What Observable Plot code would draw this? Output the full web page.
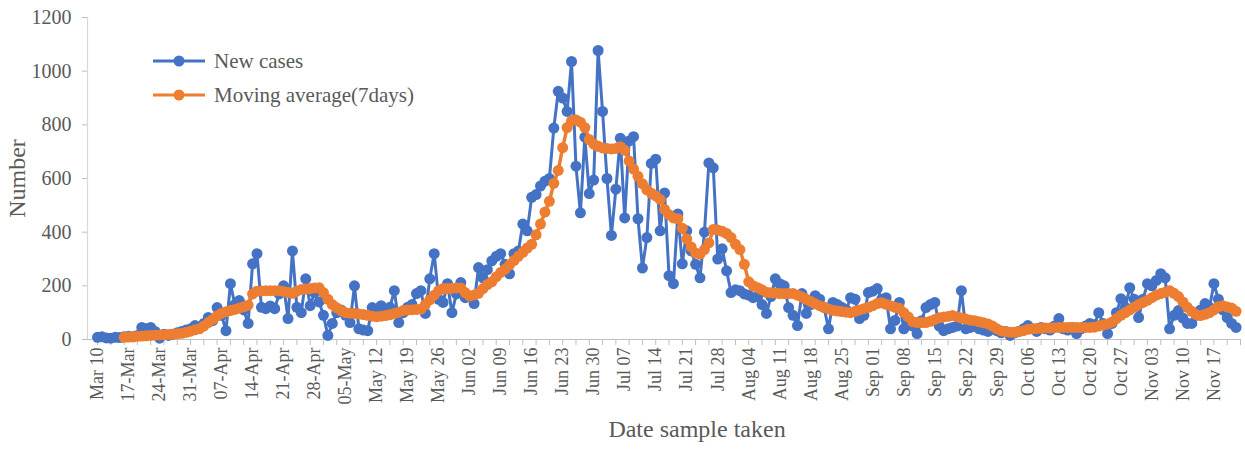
<!DOCTYPE html>
<html>
<head>
<meta charset="utf-8">
<script src="https://cdn.jsdelivr.net/npm/d3@7"></script>
<script src="https://cdn.jsdelivr.net/npm/@observablehq/plot@0.6"></script>
<style>
  body { margin: 0; background: #fff; }
  #chart { position: relative; width: 1245px; height: 451px; }
  .legend { position: absolute; left: 152px; top: 44px; font-family: "Liberation Serif", "Times New Roman", serif; font-size: 21px; color: #595959; }
  .legend .row { display: flex; align-items: center; height: 34px; }
  .legend svg { margin-right: 8px; }
</style>
</head>
<body>
<div id="chart"></div>
<script>
// Daily new cases, day 0 = Mar 10
const newCases = [
  8, 10, 6, 5, 8, 7, 10,
  12, 10, 15, 45, 40, 45, 30,
  5, 20, 15, 20, 25, 30, 35,
  40, 52, 45, 60, 82, 70, 119,
  90, 33, 208, 130, 145, 110, 60,
  282, 320, 120, 115, 125, 115, 170,
  200, 78, 330, 120, 100, 226, 126,
  175, 140, 90, 15, 60, 100, 110,
  90, 63, 200, 40, 35, 33, 119,
  105, 126, 110, 120, 182, 63, 100,
  120, 130, 171, 182, 97, 226, 320,
  150, 138, 208, 100, 170, 212, 156,
  160, 134, 268, 230, 260, 293, 310,
  320, 280, 245, 320, 330, 430, 405,
  530, 540, 572, 590, 600, 788, 925,
  900, 850, 1036, 646, 472, 754, 544,
  594, 1077, 850, 600, 388, 560, 750,
  453, 740, 756, 450, 266, 380, 656,
  672, 405, 546, 238, 208, 468, 282,
  405, 330, 280, 230, 400, 658, 640,
  300, 338, 256, 175, 185, 182, 170,
  165, 156, 160, 130, 97, 160, 226,
  208, 200, 119, 90, 52, 171, 97,
  130, 163, 150, 120, 40, 138, 130,
  120, 110, 156, 150, 78, 90, 175,
  180, 190, 150, 156, 40, 71, 138,
  40, 60, 50, 22, 70, 119, 130,
  138, 50, 33, 40, 45, 50, 182,
  40, 45, 50, 40, 35, 30, 40,
  33, 25, 30, 15, 25, 30, 40,
  52, 40, 30, 45, 40, 35, 50,
  78, 40, 35, 45, 22, 40, 50,
  60, 55, 100, 60, 22, 60, 100,
  152, 120, 193, 150, 82, 150, 208,
  200, 220, 245, 230, 40, 90, 108,
  80, 60, 60, 90, 110, 134, 120,
  208, 150, 110, 82, 60, 45
];

// 7-day moving average, starting at day 6 (Mar 16)
const avgStartDay = 6;
const movingAvg = [
  8, 9, 10, 12, 13, 14, 15,
  16, 17, 18, 19, 20, 21, 23,
  27, 31, 36, 40, 50, 63, 75,
  88, 98, 103, 108, 112, 117, 122,
  128, 170, 180, 181, 182, 182, 182,
  182, 179, 175, 172, 180, 186, 188,
  190, 192, 193, 175, 150, 130, 118,
  108, 100, 98, 97, 95, 93, 90,
  87, 85, 87, 89, 92, 97, 102,
  108, 110, 111, 112, 113, 130, 148,
  165, 182, 190, 190, 191, 192, 192,
  175, 162, 166, 172, 190, 205, 215,
  233, 250, 262, 278, 294, 310, 325,
  341, 355, 390, 430, 475, 515, 582,
  630, 715, 790, 815, 818, 810, 790,
  745, 728, 720, 714, 712, 710, 712,
  718, 705, 665, 635, 608, 580, 558,
  545, 535, 522, 485, 465, 453, 450,
  415, 375, 345, 322, 318, 335, 360,
  410, 408, 403, 395, 380, 355, 335,
  280, 215, 200, 193, 185, 176, 174,
  173, 171, 171, 171, 171, 165, 158,
  150, 142, 133, 126, 120, 114, 109,
  106, 104, 102, 100, 105, 110, 115,
  120, 126, 134, 137, 131, 126, 120,
  116, 100, 84, 66, 63, 63, 63,
  68, 75, 81, 84, 86, 89, 85,
  80, 76, 72, 70, 66, 62, 58,
  50, 40, 32, 29, 27, 27, 30,
  33, 38, 40, 41, 42, 43, 43,
  44, 45, 45, 45, 45, 45, 45,
  45, 45, 46, 50, 54, 58, 65,
  78, 90, 100, 110, 120, 130, 138,
  146, 156, 165, 171, 176, 182, 172,
  160, 140, 120, 105, 93, 89, 94,
  100, 110, 122, 126, 121, 117, 105
];

// Weekly tick labels (every 7 days from Mar 10)
const tickLabels = [
  "Mar 10", "17-Mar", "24-Mar", "31-Mar", "07-Apr", "14-Apr", "21-Apr", "28-Apr",
  "05-May", "May 12", "May 19", "May 26", "Jun 02", "Jun 09", "Jun 16", "Jun 23",
  "Jun 30", "Jul 07", "Jul 14", "Jul 21", "Jul 28", "Aug 04", "Aug 11", "Aug 18",
  "Aug 25", "Sep 01", "Sep 08", "Sep 15", "Sep 22", "Sep 29", "Oct 06", "Oct 13",
  "Oct 20", "Oct 27", "Nov 03", "Nov 10", "Nov 17"
];
const yTicks = [0, 200, 400, 600, 800, 1000, 1200];
const seriesNames = ["New cases", "Moving average(7days)"];
const colors = ["#4472C4", "#ED7D31"];

const cases = newCases.map((v, i) => ({day: i, value: v}));
const avg = movingAvg.map((v, i) => ({day: i + avgStartDay, value: v}));
const labelDays = tickLabels.map((_, i) => i * 7);
const minorTicks = d3.range(0, newCases.length + 1, 3);
const xDomain = [-2.26, 258];
const font = '"Liberation Serif", "Times New Roman", serif';
const gray = "#595959";
const axisGray = "#bfbfbf";

const plot = Plot.plot({
  width: 1245,
  height: 451,
  marginLeft: 87,
  marginRight: 5,
  marginTop: 17,
  marginBottom: 112,
  style: {fontFamily: font, color: gray, background: "white", overflow: "visible"},
  x: {type: "linear", domain: xDomain},
  y: {domain: [0, 1200]},
  marks: [
    Plot.ruleX([xDomain[0]], {y1: 0, y2: 1200, stroke: "#d9d9d9", strokeWidth: 1.2}),
    Plot.ruleY([0], {stroke: axisGray, strokeWidth: 1.2}),
    Plot.axisY({ticks: yTicks, tickSize: 5, tickPadding: 11, tickFormat: (d) => String(d), label: null, stroke: axisGray, fontSize: 20, fill: gray}),
    Plot.axisX({ticks: minorTicks, tickSize: 6, tickFormat: () => "", label: null, stroke: axisGray}),
    Plot.axisX({ticks: labelDays, tickSize: 0, tickPadding: 8, tickRotate: -90, tickFormat: (d) => tickLabels[Math.round(d / 7)], label: null, fontSize: 18, fill: gray}),
    Plot.text(["Date sample taken"], {frameAnchor: "bottom", textAnchor: "middle", dx: 33, dy: 97, fontSize: 24, fill: gray, fontFamily: font}),
    Plot.text(["Number"], {frameAnchor: "left", textAnchor: "middle", dx: -70, rotate: -90, fontSize: 24, fill: gray, fontFamily: font}),
    Plot.line(cases, {x: "day", y: "value", stroke: colors[0], strokeWidth: 3}),
    Plot.dot(cases, {x: "day", y: "value", r: 5.5, fill: colors[0]}),
    Plot.line(avg, {x: "day", y: "value", stroke: colors[1], strokeWidth: 3.5}),
    Plot.dot(avg, {x: "day", y: "value", r: 5.5, fill: colors[1]})
  ]
});

const chart = document.getElementById("chart");
chart.appendChild(plot);

const legend = document.createElement("div");
legend.className = "legend";
seriesNames.forEach((name, i) => {
  const row = document.createElement("div");
  row.className = "row";
  row.innerHTML = `<svg width="54" height="14"><line x1="1" y1="7" x2="53" y2="7" stroke="${colors[i]}" stroke-width="3"/><circle cx="27" cy="7" r="5.5" fill="${colors[i]}"/></svg><span>${name}</span>`;
  legend.appendChild(row);
});
chart.appendChild(legend);
</script>
</body>
</html>
